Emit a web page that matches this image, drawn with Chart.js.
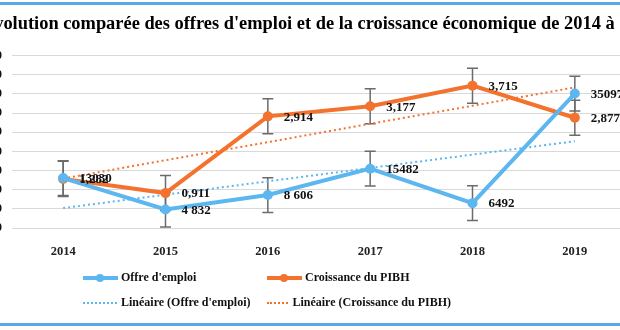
<!DOCTYPE html>
<html>
<head>
<meta charset="utf-8">
<script src="https://cdn.jsdelivr.net/npm/chart.js@4.4.1/dist/chart.umd.min.js"></script>
<style>
  html, body { margin: 0; padding: 0; background: #fff; }
  body { width: 620px; height: 330px; position: relative; overflow: hidden; }
  #wrap { position: absolute; left: -60px; top: 0; width: 758px; height: 330px; }
  .rule { position: absolute; left: 0; width: 620px; height: 3px; background: #5aa8e6; }
  #legend { position: absolute; left: 83px; top: 265px; display: grid;
    grid-template-columns: 184px 184px; grid-auto-rows: 25px;
    font: bold 12px "Liberation Serif", "DejaVu Serif", serif; color: #111; }
  .item { display: flex; align-items: center; white-space: nowrap; }
  .sw { position: relative; width: 35px; height: 10px; margin-right: 3px; }
  .sw .ln { position: absolute; left: 0; right: 0; top: 3px; height: 4px; }
  .sw .dot { position: absolute; left: 13px; top: 1px; width: 8px; height: 8px; border-radius: 50%; }
  .sw .dt { position: absolute; left: 0; right: 1px; top: 4px; border-top: 2px dotted; }
</style>
</head>
<body>
<div class="rule" style="top:2px"></div>
<div id="wrap"><canvas id="chart"></canvas></div>
<div id="legend"></div>
<div class="rule" style="top:323px"></div>
<script>
const years = ['2014', '2015', '2016', '2017', '2018', '2019'];
const offreEmploi = [13030, 4832, 8606, 15482, 6492, 35097];
const offreLabels = ['13030', '4 832', '8 606', '15482', '6492', '35097'];
const croissancePIBH = [1.282, 0.911, 2.914, 3.177, 3.715, 2.877];
const tendanceOffre = [5200, 8690, 12180, 15670, 19160, 22650];
const tendancePIBH = [1.29, 1.77, 2.24, 2.72, 3.19, 3.67];
const erreurOffre = [4540, 4540, 4540, 4540, 4540, 4540];
const erreurPIBH = [0.457, 0.457, 0.457, 0.457, 0.457, 0.457];
const ticksGauche = [0, 45000, 5000];   // min, max, pas
const ticksDroite = [0, 4.5, 0.5];

const BLUE = '#5cb6f0';
const ORANGE = '#f3722e';
const SERIF = '"Liberation Serif", "DejaVu Serif", serif';

const fmtFr = (v, d) => v.toFixed(d).replace('.', ',');
const pibLabels = croissancePIBH.map(v => fmtFr(v, 3));

// barres d'erreur (erreur type) dessinées via les échelles
const errorBars = {
  id: 'errorBars',
  beforeDatasetsDraw(chart){
    const ctx = chart.ctx;
    chart.data.datasets.forEach((ds, i) => {
      if(!ds.errors) return;
      const yScale = chart.scales[ds.yAxisID];
      chart.getDatasetMeta(i).data.forEach((pt, j) => {
        const hi = yScale.getPixelForValue(ds.data[j] + ds.errors[j]);
        const lo = yScale.getPixelForValue(ds.data[j] - ds.errors[j]);
        ctx.save();
        ctx.strokeStyle = '#6b6b6b';
        ctx.lineWidth = 1.5;
        ctx.beginPath();
        ctx.moveTo(pt.x, hi); ctx.lineTo(pt.x, lo);
        ctx.moveTo(pt.x - 5.5, hi); ctx.lineTo(pt.x + 5.5, hi);
        ctx.moveTo(pt.x - 5.5, lo); ctx.lineTo(pt.x + 5.5, lo);
        ctx.stroke();
        ctx.restore();
      });
    });
  }
};

// étiquettes de données à droite des points
const pointLabels = {
  id: 'pointLabels',
  afterDatasetsDraw(chart){
    const ctx = chart.ctx;
    chart.data.datasets.forEach((ds, i) => {
      if(!ds.pointLabels) return;
      chart.getDatasetMeta(i).data.forEach((pt, j) => {
        ctx.save();
        ctx.font = 'bold 13px ' + SERIF;
        ctx.fillStyle = '#111';
        ctx.textAlign = 'left';
        ctx.textBaseline = 'middle';
        ctx.fillText(ds.pointLabels[j], pt.x + 16, pt.y + 1);
        ctx.restore();
      });
    });
  }
};

const chart = new Chart(document.getElementById('chart').getContext('2d'), {
  type: 'line',
  data: {
    labels: years,
    datasets: [
      { label: "Offre d'emploi", data: offreEmploi, yAxisID: 'y', borderColor: BLUE, backgroundColor: BLUE,
        borderWidth: 4, pointRadius: 5, pointBorderWidth: 0, tension: 0,
        errors: erreurOffre, pointLabels: offreLabels, order: 1 },
      { label: 'Croissance du PIBH', data: croissancePIBH, yAxisID: 'y1', borderColor: ORANGE, backgroundColor: ORANGE,
        borderWidth: 4, pointRadius: 5, pointBorderWidth: 0, tension: 0,
        errors: erreurPIBH, pointLabels: pibLabels, order: 1 },
      { label: "Linéaire (Offre d'emploi)", data: tendanceOffre, yAxisID: 'y', borderColor: BLUE,
        borderWidth: 2, borderDash: [2, 3], pointRadius: 0, order: 2, dotted: true },
      { label: 'Linéaire (Croissance du PIBH)', data: tendancePIBH, yAxisID: 'y1', borderColor: ORANGE,
        borderWidth: 2, borderDash: [2, 3], pointRadius: 0, order: 2, dotted: true }
    ]
  },
  options: {
    responsive: true,
    maintainAspectRatio: false,
    animation: false,
    layout: { padding: { top: 0, bottom: 74, left: 0, right: 0 } },
    plugins: {
      legend: { display: false },
      tooltip: { enabled: false },
      title: { display: true, text: "Evolution comparée des offres d'emploi et de la croissance économique de 2014 à 2019",
        color: '#000', font: { family: SERIF, size: 18.4, weight: 'bold' }, padding: { top: 13, bottom: 20.5 } }
    },
    scales: {
      x: { offset: true, grid: { display: false }, border: { display: false },
        ticks: { color: '#222', padding: 8, font: { family: SERIF, size: 12.5, weight: 'bold' } },
        afterFit: (s) => { s.height = 28; } },
      y: { position: 'left', min: ticksGauche[0], max: ticksGauche[1],
        grid: { color: '#d9d9d9', drawTicks: false }, border: { display: false },
        ticks: { stepSize: ticksGauche[2], padding: 10, color: '#111', font: { family: SERIF, size: 12.5, weight: 'bold' } },
        afterFit: (s) => { s.width = 72; } },
      y1: { position: 'right', min: ticksDroite[0], max: ticksDroite[1],
        grid: { display: false, drawTicks: false }, border: { display: false },
        ticks: { stepSize: ticksDroite[2], padding: 10, color: '#111', font: { family: SERIF, size: 12.5, weight: 'bold' },
          callback: (v) => fmtFr(v, 1) },
        afterFit: (s) => { s.width = 72; } }
    }
  },
  plugins: [errorBars, pointLabels]
});

// légende HTML construite depuis les jeux de données
const legend = document.getElementById('legend');
[0, 1, 2, 3].forEach(i => {
  const ds = chart.data.datasets[i];
  const it = document.createElement('div');
  it.className = 'item';
  const sw = ds.dotted
    ? `<span class="sw"><span class="dt" style="border-color:${ds.borderColor}"></span></span>`
    : `<span class="sw"><span class="ln" style="background:${ds.borderColor}"></span><span class="dot" style="background:${ds.borderColor}"></span></span>`;
  it.innerHTML = sw + '<span>' + ds.label + '</span>';
  legend.appendChild(it);
});
</script>
</body>
</html>
